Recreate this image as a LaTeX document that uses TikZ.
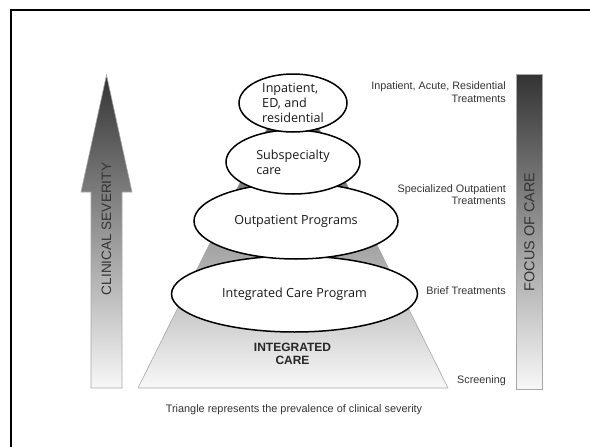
\documentclass[tikz,border=0pt]{standalone}
\usepackage{fontspec}
\setmainfont{Liberation Sans}
\newfontfamily\ellfont{Open Sans}
\usetikzlibrary{shapes.geometric}
\definecolor{darkg}{HTML}{333333}
\definecolor{lightg}{HTML}{F8F8F8}
\definecolor{edgeg}{HTML}{A8A8A8}
\definecolor{labg}{HTML}{333333}
\tikzset{
  oval/.style={ellipse, draw=black, line width=1.5pt, fill=white, inner sep=0pt, text=black!90, font=\ellfont\fontsize{12.6}{15.3}\selectfont, align=left},
  sidelab/.style={anchor=east, align=right, text=labg, font=\fontsize{10.8}{12.6}\selectfont, inner sep=0pt},
  bigcap/.style={rotate=90, text=darkg, inner sep=0pt},
}
\begin{document}
\begin{tikzpicture}[x=1pt,y=-1pt]
\useasboundingbox (0,0) rectangle (590,447);
% frame
\draw[line width=2.6pt] (11,449) -- (11,10) -- (592,10);
% triangle
\draw[edgeg, line width=0.6pt, top color=darkg!95, bottom color=lightg]
  (138,388) -- (293,76) -- (448,388) -- cycle;
% left arrow
\draw[edgeg, line width=0.6pt, top color=darkg, bottom color=lightg]
  (91,388) -- (91,192) -- (81,192) -- (106.5,75) -- (132,192) -- (122,192) -- (122,388) -- cycle;
\node[bigcap, font=\fontsize{13.6}{14}\selectfont] (cs) at (106.5,229) {CLINICAL SEVERITY};
% right bar
\draw[edgeg, line width=0.6pt, top color=darkg, bottom color=lightg]
  (516,74) rectangle (542,389);
\node[bigcap, font=\fontsize{14.4}{15}\selectfont] (fc) at (529.5,232) {FOCUS OF CARE};
% ellipses
\node[oval, minimum width=246pt, minimum height=76pt] (icp) at (294.5,294) {Integrated Care Program};
\node[oval, minimum width=204pt, minimum height=76pt] (op) at (296,221) {Outpatient Programs};
\node[oval, minimum width=134pt, minimum height=64pt] (sub) at (293,162) {Subspecialty\\care};
\node[oval, minimum width=108pt, minimum height=58pt] (inp) at (293,103) {Inpatient,\\ED, and\\residential};
% integrated care
\node[font=\bfseries\fontsize{12}{12.8}\selectfont, text=black!85, align=center, inner sep=0pt] (ic) at (292.5,354) {INTEGRATED\\CARE};
% side labels
\node[sidelab] (l1) at (506,92) {Inpatient, Acute, Residential\\Treatments};
\node[sidelab] (l2) at (506,194.5) {Specialized Outpatient\\Treatments};
\node[sidelab] (l3) at (506,290.7) {Brief Treatments};
\node[sidelab] (l4) at (506,380.7) {Screening};
% caption
\node[text=black!80, font=\fontsize{10.9}{12}\selectfont, inner sep=0pt] (cap) at (294,410) {Triangle represents the prevalence of clinical severity};
\end{tikzpicture}
\end{document}
